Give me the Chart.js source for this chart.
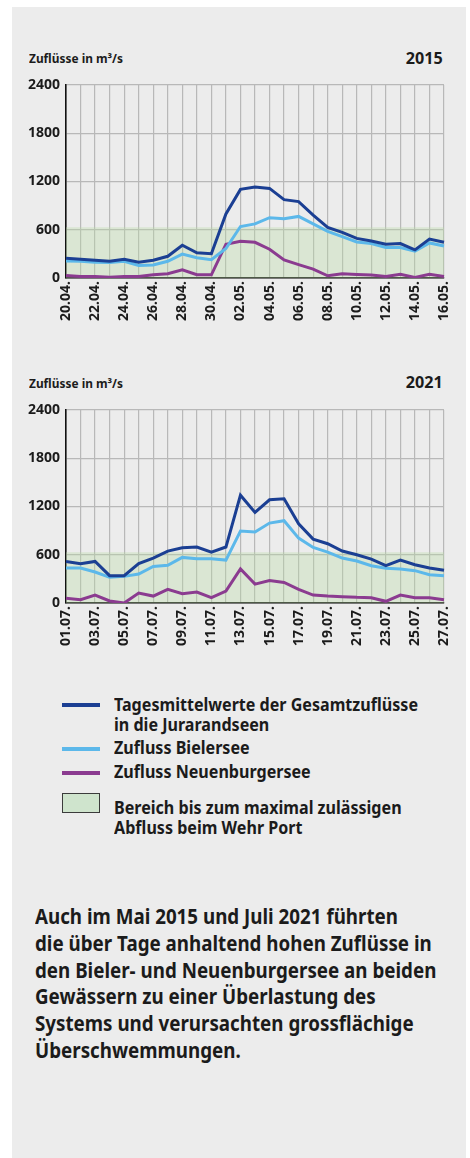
<!DOCTYPE html>
<html lang="de">
<head>
<meta charset="utf-8">
<title>Zuflüsse in die Jurarandseen 2015 und 2021</title>
<script src="https://cdn.jsdelivr.net/npm/chart.js"></script>
<style>
  html, body { margin: 0; padding: 0; background: #fff; }
  body { width: 470px; height: 1158px; position: relative; overflow: hidden;
         font-family: 'Noto Sans', sans-serif; font-weight: 700; color: #1b1b1b; }
  .panel { position: absolute; left: 12px; top: 7px; width: 454px; height: 1151px; background: #ececec; }
  .abs { position: absolute; white-space: nowrap; }
  .unit { font-size: 12.5px; line-height: 16px; transform-origin: left center; }
  .year { font-size: 16.5px; line-height: 20px; transform-origin: right center; text-align: right; }
  canvas { position: absolute; left: 0; }
  .sample { position: absolute; left: 62px; width: 38px; height: 4px; }
  .legtext { left: 114px; font-size: 17.5px; line-height: 19.5px; transform-origin: left top; }
  .box { position: absolute; left: 62px; top: 793px; width: 36px; height: 18px; background: #cfe4cd; border: 1px solid #3b3b3b; }
  .para { left: 35px; top: 903px; font-size: 20.5px; line-height: 26.8px; transform-origin: left top; }
</style>
</head>
<body>
<div class="panel"></div>

<div class="abs unit" style="left:29px; top:51px" data-fit="94"><span class="ref">Zuflüsse in m³/s</span></div>
<div class="abs year" style="right:27px; top:48px" data-fit="37"><span class="ref">2015</span></div>
<canvas id="chart2015" width="470" height="258" style="top:70px"></canvas>

<div class="abs unit" style="left:29px; top:376px" data-fit="94"><span class="ref">Zuflüsse in m³/s</span></div>
<div class="abs year" style="right:27px; top:372px" data-fit="37"><span class="ref">2021</span></div>
<canvas id="chart2021" width="470" height="258" style="top:395px"></canvas>

<div class="sample" style="top:703px; background:#1b3f93"></div>
<div class="abs legtext" style="top:695px"><span class="ref" id="legRef">Tagesmittelwerte der Gesamtzuflüsse</span><br>in die Jurarandseen</div>
<div class="sample" style="top:747px; background:#5cb8ea"></div>
<div class="abs legtext" style="top:738px">Zufluss Bielersee</div>
<div class="sample" style="top:771px; background:#8b3b90"></div>
<div class="abs legtext" style="top:762px">Zufluss Neuenburgersee</div>
<div class="box"></div>
<div class="abs legtext" style="top:798px">Bereich bis zum maximal zulässigen<br>Abfluss beim Wehr Port</div>

<div class="abs para" data-fit="363"><span class="ref">Auch im Mai 2015 und Juli 2021 führten</span><br>die über Tage anhaltend hohen Zuflüsse in<br>den Bieler- und Neuenburgersee an beiden<br>Gewässern zu einer Überlastung des<br>Systems und verursachten grossflächige<br>Überschwemmungen.</div>

<script>
// Daten (m³/s)
const dates2015 = ['20.04.', '21.04.', '22.04.', '23.04.', '24.04.', '25.04.', '26.04.', '27.04.', '28.04.',
    '29.04.', '30.04.', '01.05.', '02.05.', '03.05.', '04.05.', '05.05.', '06.05.', '07.05.', '08.05.',
    '09.05.', '10.05.', '11.05.', '12.05.', '13.05.', '14.05.', '15.05.', '16.05.'];
const total2015 = [245, 232, 220, 208, 232, 196, 220, 270, 407, 313, 301, 796, 1102, 1130, 1114, 974, 950,
    783, 628, 567, 493, 460, 420, 428, 350, 485, 444];
const bieler2015 = [212, 208, 196, 192, 208, 155, 163, 208, 297, 252, 228, 367, 640, 673, 750, 738, 766,
    673, 579, 514, 448, 428, 379, 379, 334, 436, 399];
const neuenburg2015 = [32, 20, 20, 8, 20, 20, 40, 53, 102, 40, 40, 420, 457, 444, 358, 224, 167, 110, 28,
    53, 45, 37, 20, 45, 8, 45, 20];

const dates2021 = ['01.07.', '02.07.', '03.07.', '04.07.', '05.07.', '06.07.', '07.07.', '08.07.', '09.07.',
    '10.07.', '11.07.', '12.07.', '13.07.', '14.07.', '15.07.', '16.07.', '17.07.', '18.07.', '19.07.',
    '20.07.', '21.07.', '22.07.', '23.07.', '24.07.', '25.07.', '26.07.', '27.07.'];
const total2021 = [517, 489, 517, 340, 340, 489, 559, 646, 687, 696, 633, 696, 1341, 1126, 1283, 1296, 985,
    795, 737, 646, 600, 546, 464, 534, 476, 435, 406];
const bieler2021 = [435, 435, 385, 319, 331, 360, 455, 468, 567, 551, 551, 534, 894, 882, 994, 1023, 807,
    691, 633, 559, 522, 464, 431, 422, 402, 352, 340];
const neuenburg2021 = [58, 41, 99, 25, 0, 123, 86, 169, 115, 136, 66, 148, 424, 235, 280, 255, 169, 99, 86,
    78, 70, 66, 21, 99, 66, 66, 41];

const yTicks = [0, 600, 1200, 1800, 2400];
const maxOutflow = 630; // Bereich bis zum maximal zulässigen Abfluss beim Wehr Port

const colTotal = '#1b3f93';
const colBieler = '#5cb8ea';
const colNeuenburg = '#8b3b90';
const gridColor = '#b8b8b8';
const textColor = '#1b1b1b';

Chart.defaults.font.family = "'Noto Sans', sans-serif";
Chart.defaults.font.weight = 'bold';
Chart.defaults.color = textColor;

const makeChart = (id, labels, total, bieler, neuenburg) => {
    const band = labels.map(() => maxOutflow);
    return new Chart(document.getElementById(id), {
        type: 'line',
        data: {
            labels: labels,
            datasets: [
                { label: 'Gesamtzuflüsse', data: total, borderColor: colTotal, borderWidth: 3, order: 1 },
                { label: 'Zufluss Bielersee', data: bieler, borderColor: colBieler, borderWidth: 3, order: 2 },
                { label: 'Zufluss Neuenburgersee', data: neuenburg, borderColor: colNeuenburg, borderWidth: 3, order: 3 },
                { label: 'Bereich', data: band, borderWidth: 0, backgroundColor: 'rgba(185, 218, 165, 0.36)', fill: 'origin', order: 4 }
            ]
        },
        options: {
            responsive: false,
            animation: false,
            events: [],
            elements: { point: { radius: 0 }, line: { tension: 0 } },
            layout: { padding: { left: 0, right: 26, top: 15, bottom: 0 } },
            plugins: { legend: { display: false }, tooltip: { enabled: false } },
            scales: {
                x: {
                    grid: { color: gridColor, lineWidth: 1.2, drawTicks: false },
                    border: { color: '#111', width: 1.6 },
                    ticks: {
                        autoSkip: false, maxRotation: 90, minRotation: 90, padding: 3,
                        font: { size: 14, weight: 'bold' },
                        callback: (v, i) => (i % 2 === 0 ? labels[i] : '')
                    },
                    afterFit: (s) => { s.height = 50; }
                },
                y: {
                    min: 0, max: 2400,
                    grid: { color: gridColor, lineWidth: 1.2, drawTicks: false },
                    border: { color: '#111', width: 1.6 },
                    ticks: { padding: 6, font: { size: 14, weight: 'bold' }, callback: (v) => String(v) },
                    afterBuildTicks: (s) => { s.ticks = yTicks.map((v) => ({ value: v })); },
                    afterFit: (s) => { s.width = 66; }
                }
            }
        }
    });
};

// Texte auf die Breite der Vorlage bringen
const fitText = () => {
    document.querySelectorAll('[data-fit]').forEach((el) => {
        const w = el.querySelector('.ref').getBoundingClientRect().width;
        el.style.transform = `scaleX(${el.dataset.fit / w})`;
    });
    const legW = document.getElementById('legRef').getBoundingClientRect().width;
    document.querySelectorAll('.legtext').forEach((el) => {
        el.style.transform = `scaleX(${304 / legW})`;
    });
};

window.onload = () => {
    fitText();
    makeChart('chart2015', dates2015, total2015, bieler2015, neuenburg2015);
    makeChart('chart2021', dates2021, total2021, bieler2021, neuenburg2021);
};
</script>
</body>
</html>
